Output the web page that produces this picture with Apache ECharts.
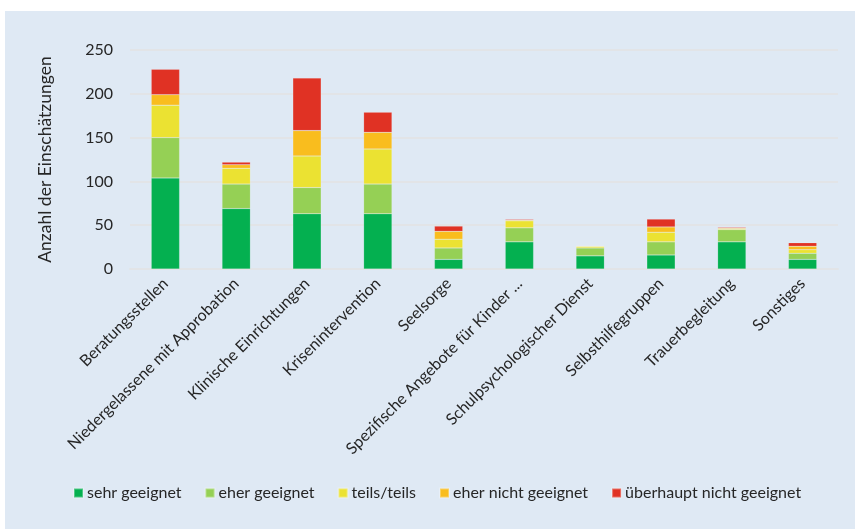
<!DOCTYPE html>
<html>
<head>
<meta charset="utf-8">
<script src="https://cdn.jsdelivr.net/npm/echarts@6/dist/echarts.min.js"></script>
<style>
  html, body { margin: 0; padding: 0; background: #ffffff; }
  #chart { width: 855px; height: 529px; }
</style>
</head>
<body>
<div id="chart"></div>
<script>
// Angebote / Einrichtungen
const categories = [
  'Beratungsstellen',
  'Niedergelassene mit Approbation',
  'Klinische Einrichtungen',
  'Krisenintervention',
  'Seelsorge',
  'Spezifische Angebote für Kinder ...',
  'Schulpsychologischer Dienst',
  'Selbsthilfegruppen',
  'Trauerbegleitung',
  'Sonstiges'
];

// Anzahl der Einschätzungen je Kategorie
const sehrGeeignet        = [104, 69, 63, 63, 11, 31, 15, 16, 31, 11];
const eherGeeignet        = [ 46, 28, 30, 34, 13, 16,  9, 15, 14,  7];
const teilsTeils          = [ 37, 18, 36, 40, 10,  8,  2, 11,  1,  4];
const eherNichtGeeignet   = [ 12,  4, 29, 19,  9,  1,  0,  6,  1,  4];
const ueberhauptNicht     = [ 29,  3, 60, 23,  6,  1,  0,  9,  1,  4];

const seriesNames = ['sehr geeignet', 'eher geeignet', 'teils/teils', 'eher nicht geeignet', 'überhaupt nicht geeignet'];
const seriesData = [sehrGeeignet, eherGeeignet, teilsTeils, eherNichtGeeignet, ueberhauptNicht];
const seriesColors = ['#04b050', '#95d055', '#ebe232', '#f9bd1e', '#e03224'];

const yTicks = { min: 0, max: 250, interval: 50 };

const FONT = 'Lato, "Open Sans", sans-serif';
const TEXT = '#262626';

const chart = echarts.init(document.getElementById('chart'));

chart.setOption({
  backgroundColor: '#ffffff',
  animation: false,
  graphic: [{
    type: 'rect',
    left: 5, top: 11,
    shape: { width: 850, height: 518 },
    style: { fill: '#dfe9f4' },
    z: -10
  }],
  textStyle: { fontFamily: FONT, color: TEXT },
  grid: { left: 130, right: 17, top: 50, bottom: 260, containLabel: false },
  legend: {
    data: seriesNames,
    bottom: 23,
    left: 68,
    itemWidth: 9,
    itemHeight: 9,
    itemGap: 23,
    icon: 'rect',
    textStyle: { fontFamily: FONT, fontSize: 16, color: TEXT, padding: [0, 0, 0, -1] }
  },
  xAxis: {
    type: 'category',
    data: categories,
    axisLine: { show: true, lineStyle: { color: '#e2e4e7', width: 2 } },
    axisTick: { show: false },
    axisLabel: {
      rotate: 45,
      interval: 0,
      margin: 12,
      fontFamily: FONT,
      fontSize: 16,
      color: TEXT
    }
  },
  yAxis: {
    type: 'value',
    min: yTicks.min,
    max: yTicks.max,
    interval: yTicks.interval,
    name: 'Anzahl der Einschätzungen',
    nameLocation: 'middle',
    nameRotate: 90,
    nameGap: 76,
    nameTextStyle: { fontFamily: FONT, fontSize: 17.5, color: TEXT },
    axisLine: { show: false },
    axisTick: { show: false },
    splitLine: { lineStyle: { color: '#e2e4e7', width: 2 } },
    axisLabel: { margin: 17, fontFamily: FONT, fontSize: 16, color: TEXT }
  },
  series: seriesNames.map((name, i) => ({
    name: name,
    type: 'bar',
    stack: 'gesamt',
    barWidth: '40%',
    data: seriesData[i],
    itemStyle: {
      color: seriesColors[i],
      borderColor: 'rgba(255,255,255,0.3)',
      borderWidth: 0.5
    }
  }))
});
</script>
</body>
</html>
